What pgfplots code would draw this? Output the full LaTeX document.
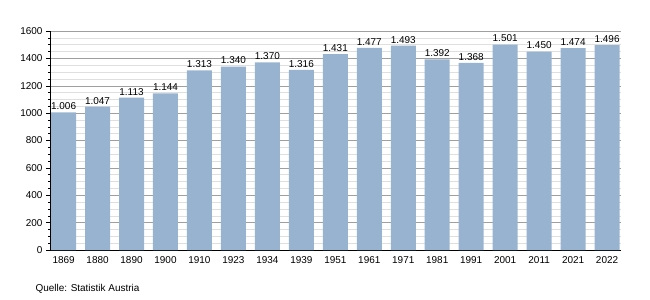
\documentclass[border=0pt]{standalone}
\usepackage{pgfplots}
\pgfplotsset{compat=1.18}
\usepackage{pgfplotstable}
\usepackage{fontspec}
\setmainfont{Liberation Sans}
\definecolor{barblue}{RGB}{152,179,208}
\pgfplotstableread{
x y lab
0 1006 1.006
1 1047 1.047
2 1113 1.113
3 1144 1.144
4 1313 1.313
5 1340 1.340
6 1370 1.370
7 1316 1.316
8 1431 1.431
9 1477 1.477
10 1493 1.493
11 1392 1.392
12 1368 1.368
13 1501 1.501
14 1450 1.450
15 1474 1.474
16 1496 1.496
}\datatable
\begin{document}
\begin{tikzpicture}
\useasboundingbox (-50bp,-50bp) rectangle (600bp,250bp);
\begin{axis}[
  at={(0,0)}, anchor=south west,
  scale only axis, width=571bp, height=219bp,
  xmin=-0.4, xmax=16.41, ymin=0, ymax=1600,
  axis x line=bottom, axis y line=left,
  axis line style={-, black, line width=0.8pt},
  xtick=data,
  xticklabels={1869,1880,1890,1900,1910,1923,1934,1939,1951,1961,1971,1981,1991,2001,2011,2021,2022},
  x tick style={draw=none},
  ytick={0,200,...,1600},
  minor y tick num=3,
  y tick style={black, line width=0.5pt},
  major tick length=4bp, minor tick length=2bp,
  tick align=outside,
  ymajorgrids, yminorgrids,
  major grid style={gray!75, line width=0.5pt},
  minor grid style={gray!25, line width=0.5pt},
  ticklabel style={font=\fontsize{10}{11}\selectfont},
  /pgf/number format/assume math mode=true,
  yticklabel style={/pgf/number format/1000 sep={}},
  xticklabel style={yshift=1bp},
  clip=false,
]
\addplot[ybar, bar width=25bp, fill=barblue, draw=none,
  nodes near coords, point meta=explicit symbolic,
  every node near coord/.style={font=\fontsize{10}{11}\selectfont, black, yshift=-1bp}]
  table[x=x, y=y, meta=lab] {\datatable};
\end{axis}
\node[anchor=west, font=\fontsize{10}{11}\selectfont] at (-18bp,-39bp) {Quelle: Statistik Austria};
\end{tikzpicture}
\end{document}
